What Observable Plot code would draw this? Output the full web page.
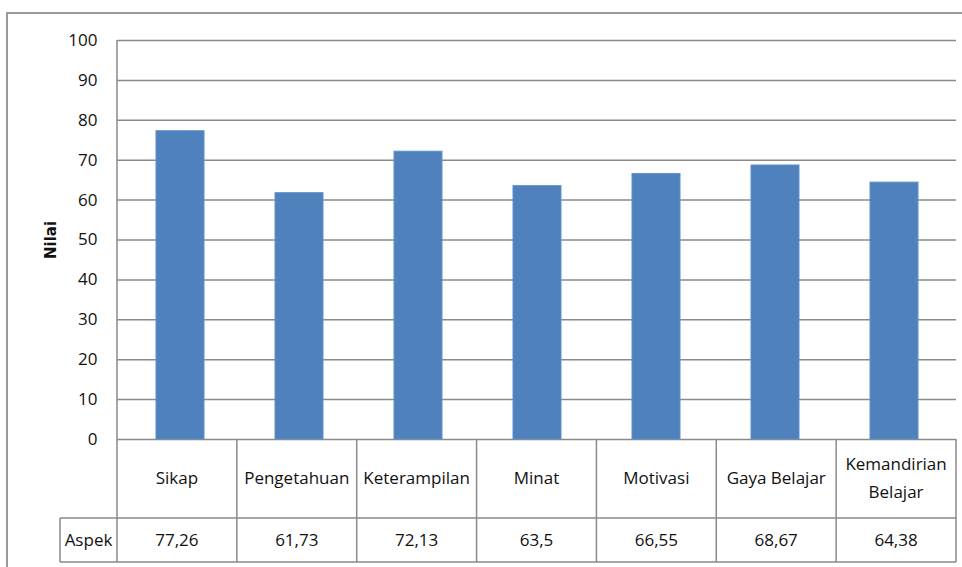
<!DOCTYPE html>
<html>
<head>
<meta charset="utf-8">
<script src="https://cdn.jsdelivr.net/npm/d3@7"></script>
<script src="https://cdn.jsdelivr.net/npm/@observablehq/plot@0.6"></script>
<style>
  html, body { margin: 0; padding: 0; background: #fff; }
  #chart svg { font-family: "Liberation Sans Narrow", "Open Sans", sans-serif; }
  #chart g[aria-label="y-axis label"] text { font-weight: bold; font-size: 15px; font-family: "DejaVu Sans", sans-serif; }
</style>
</head>
<body>
<div id="chart"></div>
<script>
const categories = ["Sikap", "Pengetahuan", "Keterampilan", "Minat", "Motivasi", "Gaya Belajar", "Kemandirian Belajar"];
const values = [77.26, 61.73, 72.13, 63.5, 66.55, 68.67, 64.38];
const yTicks = [0, 10, 20, 30, 40, 50, 60, 70, 80, 90, 100];
const rowHeader = "Aspek";
const yLabel = "Nilai";

const data = categories.map((c, i) => ({category: c, value: values[i]}));
const W = 962, H = 567;
const gridColor = "#8a8a8a";

const plot = Plot.plot({
  width: W,
  height: H,
  marginLeft: 117,
  marginRight: 6,
  marginTop: 40,
  marginBottom: 128,
  style: {fontSize: "17px", color: "#111", background: "#fff"},
  x: {domain: categories, paddingInner: 0.6, paddingOuter: 0.3, axis: null},
  y: {domain: [0, 100], ticks: yTicks},
  marks: [
    Plot.ruleY(yTicks, {stroke: gridColor, strokeWidth: 1.5}),
    Plot.barY(data, {x: "category", y: "value", fill: "#4F81BD", stroke: "#5f8fca", strokeWidth: 1}),
    Plot.axisY({ticks: yTicks, tickSize: 0, tickPadding: 20, label: yLabel, labelAnchor: "center", labelOffset: 72, labelArrow: "none"})
  ]
});

document.getElementById("chart").appendChild(plot);

// Data table below the chart, positioned from the plot's own scales
const xs = plot.scale("x");
const ys = plot.scale("y");
const xScale = d3.scaleBand().domain(xs.domain).range(xs.range).paddingInner(0.6).paddingOuter(0.3);
const step = xScale.step();
const bw = xScale.bandwidth();
const left = xs.range[0], right = xs.range[1];
const y0 = ys.apply(0);
const rowBottom1 = y0 + 79;
const rowBottom2 = y0 + 123;
const headerLeft = 60;

const svg = d3.select(plot);
svg.insert("rect", ":first-child")
  .attr("x", 7).attr("y", 13).attr("width", W + 10).attr("height", H + 10)
  .attr("fill", "none").attr("stroke", "#9a9a9a").attr("stroke-width", 2);

const g = svg.append("g").attr("stroke", gridColor).attr("stroke-width", 1.5);
// left axis line
g.append("line").attr("x1", left).attr("x2", left).attr("y1", ys.apply(100)).attr("y2", rowBottom2);
// column boundaries
categories.forEach((c, i) => {
  const edge = xScale(c) + bw + step * 0.3;
  g.append("line").attr("x1", edge).attr("x2", edge).attr("y1", y0).attr("y2", rowBottom2);
});
// row lines
g.append("line").attr("x1", headerLeft).attr("x2", right).attr("y1", rowBottom1).attr("y2", rowBottom1);
g.append("line").attr("x1", headerLeft).attr("x2", right).attr("y1", rowBottom2).attr("y2", rowBottom2);
g.append("line").attr("x1", headerLeft).attr("x2", headerLeft).attr("y1", rowBottom1).attr("y2", rowBottom2);

const t = svg.append("g").attr("fill", "#111").attr("font-size", 17).attr("text-anchor", "middle");
categories.forEach((c, i) => {
  const cx = xScale(c) + bw / 2;
  const words = c === "Kemandirian Belajar" ? ["Kemandirian", "Belajar"] : [c];
  const mid = (y0 + rowBottom1) / 2;
  words.forEach((w, j) => {
    t.append("text").attr("x", cx).attr("y", mid + (j - (words.length - 1) / 2) * 28).attr("dy", "0.35em").text(w);
  });
  t.append("text").attr("x", cx).attr("y", (rowBottom1 + rowBottom2) / 2).attr("dy", "0.35em")
    .text(String(values[i]).replace(".", ","));
});
t.append("text").attr("x", (headerLeft + left) / 2).attr("y", (rowBottom1 + rowBottom2) / 2).attr("dy", "0.35em").text(rowHeader);
</script>
</body>
</html>
